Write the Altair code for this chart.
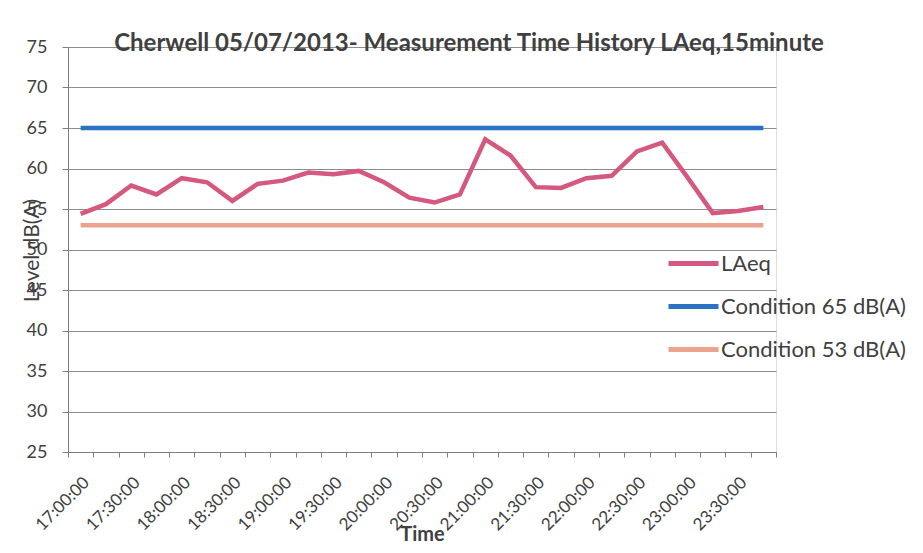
import json
import altair as alt
import pandas as pd

# ---- data ----
times = [
    "17:00:00", "17:15:00", "17:30:00", "17:45:00", "18:00:00", "18:15:00", "18:30:00",
    "18:45:00", "19:00:00", "19:15:00", "19:30:00", "19:45:00", "20:00:00", "20:15:00",
    "20:30:00", "20:45:00", "21:00:00", "21:15:00", "21:30:00", "21:45:00", "22:00:00",
    "22:15:00", "22:30:00", "22:45:00", "23:00:00", "23:15:00", "23:30:00", "23:45:00",
]
laeq = [
    54.4, 55.6, 57.9, 56.8, 58.8, 58.3, 56.0,
    58.1, 58.5, 59.5, 59.3, 59.7, 58.3, 56.4,
    55.8, 56.8, 63.6, 61.6, 57.7, 57.6, 58.8,
    59.1, 62.1, 63.2, 58.9, 54.5, 54.75, 55.25,
]
cond65 = [65] * len(times)
cond53 = [53] * len(times)
series = ["LAeq", "Condition 65 dB(A)", "Condition 53 dB(A)"]
colors = ["#d4587f", "#2c72c2", "#eaa390"]
x_labels = times[::2]
y_ticks = [25, 30, 35, 40, 45, 50, 55, 60, 65, 70, 75]

rows = []
for s, vals in zip(series, [laeq, cond65, cond53]):
    for t, v in zip(times, vals):
        rows.append({"time": t, "level": v, "series": s})
df = pd.DataFrame(rows)

FONT = "Lato"
TXT = "#404040"

label_expr = f"indexof({json.dumps(x_labels)}, datum.value) >= 0 ? datum.value : ''"

chart = alt.Chart(df).mark_line(strokeWidth=4.5).encode(
    x=alt.X(
        "time:O",
        sort=times,
        bandPosition=0.5,
        scale=alt.Scale(type="band", paddingInner=0, paddingOuter=0),
        axis=alt.Axis(
            title="Time",
            titleFont=FONT, titleFontSize=20, titleFontWeight="bold", titleColor=TXT,
            titleY=88, titleBaseline="alphabetic",
            labelExpr=label_expr,
            labelAngle=-45, labelAlign="right", labelBaseline="top",
            labelFont=FONT, labelFontSize=17, labelColor=TXT, labelPadding=17,
            tickBand="extent", tickSize=5, tickColor="#7f7f7f",
            domainColor="#7f7f7f", grid=False, labelOverlap=False,
        ),
    ),
    y=alt.Y(
        "level:Q",
        scale=alt.Scale(domain=[25, 75], nice=False, zero=False),
        axis=alt.Axis(
            values=y_ticks,
            title="Level dB(A)",
            titleFont=FONT, titleFontSize=21, titleFontWeight="normal", titleColor=TXT,
            titleAngle=-90, titleX=-36, titleY=203, titleAlign="center", titleBaseline="middle",
            labelFont=FONT, labelFontSize=18, labelColor=TXT, labelPadding=15,
            tickSize=6, tickColor="#7f7f7f", domainColor="#7f7f7f",
            grid=True, gridColor="#8c8c8c", gridWidth=1,
        ),
    ),
    color=alt.Color(
        "series:N",
        sort=series,
        scale=alt.Scale(domain=series, range=colors),
        legend=alt.Legend(
            title=None, orient="none", legendX=598, legendY=189,
            symbolType="stroke", symbolStrokeWidth=5, symbolSize=2500,
            labelFont=FONT, labelFontSize=22, labelColor=TXT, labelOffset=0,
            labelLimit=400, rowPadding=4,
        ),
    ),
).properties(
    width=708,
    height=405,
    title=alt.TitleParams(
        "Cherwell 05/07/2013- Measurement Time History LAeq,15minute",
        font=FONT, fontSize=24, fontWeight="bold", color=TXT,
        anchor="middle", dx=47, dy=33, offset=-4, baseline="alphabetic",
    ),
    autosize=alt.AutoSizeParams(type="none"),
    padding={"left": 60, "top": 39, "right": 139, "bottom": 93},
).configure_view(stroke=None).configure(background="white")

chart.save("out.html", embed_options={"renderer": "svg", "actions": False})
